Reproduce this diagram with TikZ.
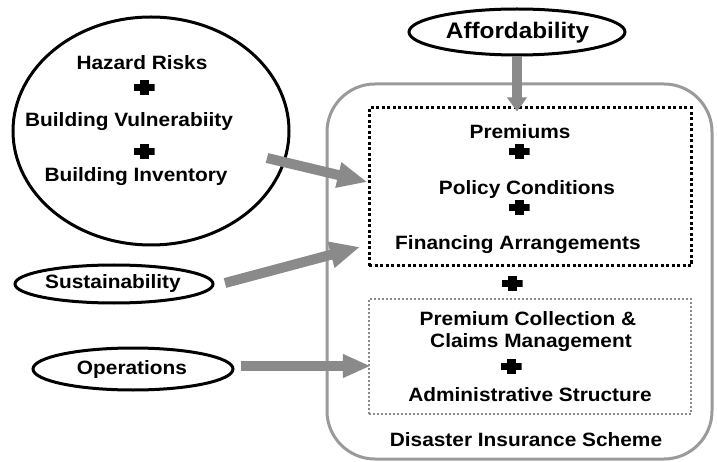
\documentclass[tikz,border=0pt]{standalone}
\usepackage{fontspec}
\newfontfamily\lab{Liberation Sans}[FakeStretch=1.08]
\usetikzlibrary{shapes.geometric,arrows.meta}
\definecolor{arrowgray}{HTML}{8A8A8A}
\definecolor{framegray}{HTML}{9A9A9A}
\tikzset{
  txt/.style={inner sep=0pt, font=\lab\bfseries\fontsize{19.3}{21}\selectfont},
  bigtxt/.style={inner sep=0pt, font=\lab\bfseries\fontsize{22.5}{25}\selectfont},
  oval/.style={draw=black, line width=3pt, ellipse, inner sep=0pt},
  plussign/.style={inner sep=0pt, minimum width=21pt, minimum height=15pt,
    path picture={
      \fill[black] ([yshift=-3.5pt]path picture bounding box.west) rectangle ([yshift=3.5pt]path picture bounding box.east);
      \fill[black] ([xshift=-4.5pt]path picture bounding box.south) rectangle ([xshift=4.5pt]path picture bounding box.north);
    }},
  fatarrow/.style={draw=arrowgray, line width=10pt},
  mainbox/.style={draw=framegray, line width=3pt, rounded corners=48pt},
  dotbox/.style={draw=black, line width=3pt, dash pattern=on 3pt off 2.5pt},
  greydotbox/.style={draw=arrowgray, line width=2.5pt, dash pattern=on 2pt off 2pt},
}
\begin{document}
\begin{tikzpicture}[x=1pt,y=-1pt]
\useasboundingbox (0,0) rectangle (717,462);
\fill[white] (0,0) rectangle (717,462);

% main scheme frame
\draw[mainbox] (327,84) rectangle (712,459);
\node[draw=none, minimum width=385pt, minimum height=375pt, inner sep=0pt] (scheme) at (519.5,271.5) {};

% dotted boxes
\node[dotbox, minimum width=322pt, minimum height=158pt, inner sep=0pt] (box1) at (530,187) {};
\node[greydotbox, minimum width=322pt, minimum height=115pt, inner sep=0pt] (box2) at (530,356.5) {};

% left big ellipse
\node[oval, minimum width=276pt, minimum height=228pt] (hz) at (151,131) {};
\node[txt] (t1) at (142,63) {Hazard Risks};
\node[plussign] (p1) at (144,88) {};
\node[txt] (t2) at (129,122) {Building Vulnerabiity};
\node[plussign] (p2) at (144,152) {};
\node[txt] (t3) at (136,177) {Building Inventory};

% small ellipses
\node[oval, minimum width=216pt, minimum height=46pt] (aff) at (517,32) {};
\node[bigtxt] (taff) at (517.5,33) {Affordability};
\node[oval, minimum width=198pt, minimum height=38pt] (sus) at (114,284) {};
\node[txt] (tsus) at (113,284) {Sustainability};
\node[oval, minimum width=200pt, minimum height=42pt] (ops) at (133,369) {};
\node[txt] (tops) at (132,370) {Operations};

% box 1 content
\node[txt] (b1) at (520,132) {Premiums};
\node[plussign] (p3) at (519,152) {};
\node[txt] (b2) at (527,190) {Policy Conditions};
\node[plussign] (p4) at (519,208) {};
\node[txt] (b3) at (518,245) {Financing Arrangements};

\node[plussign] (p5) at (512,283) {};

% box 2 content
\node[txt] (c1) at (528,319) {Premium Collection \&};
\node[txt] (c2) at (531,343) {Claims Management};
\node[plussign] (p6) at (511,366) {};
\node[txt] (c3) at (530,395) {Administrative Structure};
\node[txt] (c4) at (526,440) {Disaster Insurance Scheme};

% arrows
\coordinate (a1s) at (267,158);
\coordinate (a2s) at (225,283);
\coordinate (a2e) at (360,247);
\coordinate (a3s) at (241,366);
\draw[fatarrow, -{Triangle[length=30pt,width=24pt]}] (a1s) -- ([yshift=5pt]box1.west);
\draw[fatarrow, -{Triangle[length=30pt,width=25pt]}] (a2s) -- (a2e);
\draw[fatarrow, -{Triangle[length=28pt,width=22pt]}] (a3s) -- ([xshift=3pt,yshift=-9.5pt]box2.west);
\draw[fatarrow, -{Triangle[length=14pt,width=19pt]}] (aff.south) -- ([xshift=-13pt,yshift=-5pt]box1.north);
\end{tikzpicture}
\end{document}
